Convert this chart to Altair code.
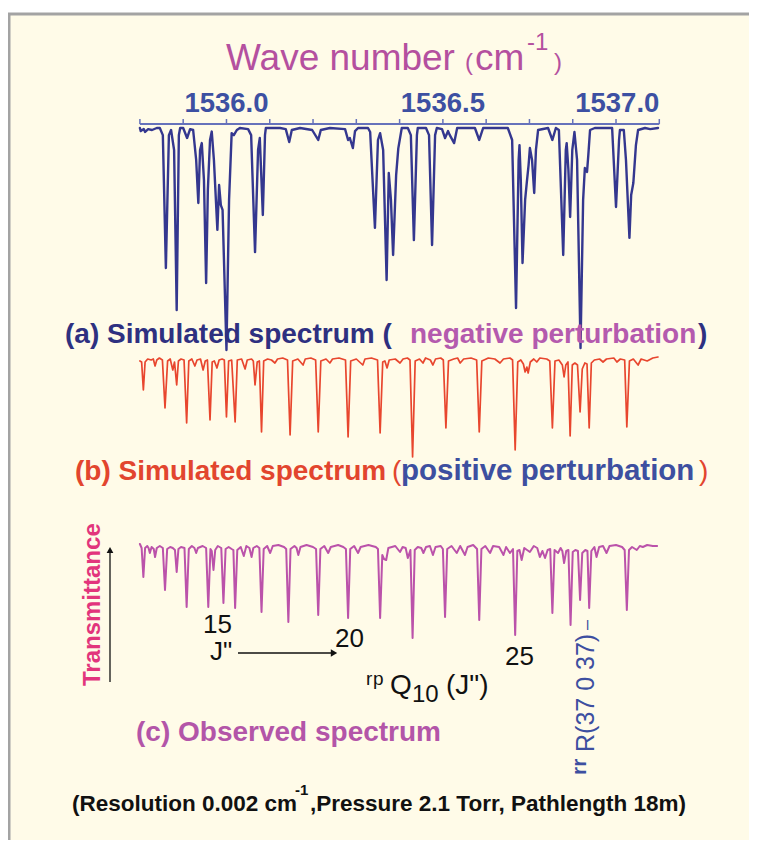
import altair as alt
import pandas as pd

# ---------------- data ----------------
# wavenumber (cm-1), relative transmittance (%) ; baseline = 100
SPEC_A = [(1535.800,100),(1535.802,98.6),(1535.809,99.5),(1535.812,98.2),(1535.819,99.5),(1535.828,99.1),
(1535.839,100),(1535.846,100),(1535.853,96.8),(1535.860,36.9),(1535.867,96.8),(1535.872,99.1),(1535.879,90.1),
(1535.885,18.0),(1535.890,96.8),(1535.893,100),(1535.900,100),(1535.909,95.5),(1535.916,99.5),(1535.923,99.1),
(1535.930,85.6),(1535.935,66.2),(1535.939,90.1),(1535.943,93.2),(1535.948,76.6),(1535.953,30.2),(1535.957,72.1),
(1535.962,94.6),(1535.966,98.4),(1535.971,85.6),(1535.979,54.1),(1535.983,74.3),(1535.987,65.3),(1535.991,63.1),
(1536.000,0),(1536.006,67.6),(1536.012,97.7),(1536.017,96.8),(1536.024,99.1),(1536.031,100),(1536.050,99.5),
(1536.057,96.8),(1536.066,44.1),(1536.073,90.1),(1536.077,95.5),(1536.084,60.8),(1536.089,96.8),(1536.091,100),
(1536.124,100),(1536.137,99.5),(1536.145,93.7),(1536.151,99.1),(1536.170,100),(1536.198,99.1),(1536.212,94.6),
(1536.218,99.1),(1536.239,100),(1536.274,99.5),(1536.281,94.6),(1536.285,95.5),(1536.292,91.0),(1536.297,98.6),
(1536.304,100),(1536.327,100),(1536.332,98.2),(1536.343,55.0),(1536.350,94.6),(1536.355,97.7),(1536.362,90.1),
(1536.370,31.5),(1536.375,79.7),(1536.380,67.6),(1536.385,42.8),(1536.392,78.8),(1536.397,90.8),(1536.405,100),
(1536.419,100),(1536.426,96.8),(1536.433,49.5),(1536.440,96.8),(1536.442,100),(1536.461,100),(1536.468,96.8),
(1536.475,47.3),(1536.482,96.8),(1536.486,100),(1536.498,99.5),(1536.505,95.5),(1536.512,98.6),(1536.516,96.8),
(1536.526,93.2),(1536.533,100),(1536.574,100),(1536.584,94.6),(1536.593,100),(1536.650,100),(1536.660,94.6),
(1536.669,18.9),(1536.675,85.6),(1536.677,92.3),(1536.680,76.6),(1536.684,39.2),(1536.690,67.6),(1536.694,75.7),
(1536.698,83.3),(1536.701,91.0),(1536.706,85.6),(1536.711,70.7),(1536.715,90.1),(1536.720,99.1),(1536.743,100),
(1536.753,94.6),(1536.761,100),(1536.768,99.1),(1536.778,42.8),(1536.784,90.1),(1536.786,93.2),(1536.790,81.1),
(1536.794,59.9),(1536.799,90.1),(1536.804,98.2),(1536.810,85.6),(1536.818,0.9),(1536.824,67.6),(1536.828,82.0),
(1536.833,80.2),(1536.836,87.8),(1536.840,99.1),(1536.851,100),(1536.891,100),(1536.900,64.4),(1536.907,94.6),
(1536.909,99.1),(1536.918,99.1),(1536.923,85.6),(1536.931,50.5),(1536.935,69.8),(1536.940,75.2),(1536.946,92.3),
(1536.951,99.1),(1536.967,100),(1536.979,99.5),(1536.997,100)]

SPEC_B = [(1535.800,98),(1535.804,97),(1535.808,69),(1535.812,97),(1535.818,100),(1535.826,99),(1535.831,100),
(1535.835,93),(1535.839,99),(1535.845,101),(1535.852,99),(1535.858,51),(1535.864,98),(1535.870,100),(1535.876,89),
(1535.880,97),(1535.885,74),(1535.889,98),(1535.895,100),(1535.902,99),(1535.908,36),(1535.913,98),(1535.920,100),
(1535.927,93),(1535.932,99),(1535.940,100),(1535.946,89),(1535.951,98),(1535.956,99),(1535.962,39),(1535.967,97),
(1535.972,98),(1535.978,91),(1535.983,99),(1535.990,100),(1535.995,99),(1536.000,42),(1536.005,98),(1536.012,99),
(1536.020,37),(1536.025,99),(1536.035,100),(1536.043,90),(1536.048,99),(1536.058,100),(1536.062,98),(1536.066,74),
(1536.071,97),(1536.076,98),(1536.081,27),(1536.086,98),(1536.095,100),(1536.104,99),(1536.112,96),(1536.118,100),
(1536.130,101),(1536.141,99),(1536.147,24),(1536.153,98),(1536.165,100),(1536.177,94),(1536.182,100),(1536.195,101),
(1536.206,99),(1536.212,27),(1536.218,98),(1536.230,100),(1536.239,96),(1536.245,100),(1536.260,101),(1536.275,99),
(1536.281,22),(1536.287,98),(1536.300,100),(1536.315,94),(1536.320,100),(1536.335,101),(1536.349,99),(1536.355,26),
(1536.361,97),(1536.366,98),(1536.371,91),(1536.376,99),(1536.390,100),(1536.401,96),(1536.408,100),(1536.418,101),
(1536.424,99),(1536.430,2),(1536.436,98),(1536.446,100),(1536.454,96),(1536.460,101),(1536.471,99),(1536.477,94),
(1536.483,100),(1536.495,101),(1536.501,99),(1536.507,31),(1536.513,98),(1536.525,100),(1536.534,101),(1536.540,96),
(1536.548,100),(1536.565,101),(1536.578,99),(1536.584,27),(1536.590,98),(1536.605,101),(1536.620,100),(1536.632,96),
(1536.640,100),(1536.655,101),(1536.661,99),(1536.667,9),(1536.673,97),(1536.680,99),(1536.686,95),(1536.690,87),
(1536.694,92),(1536.697,86),(1536.702,97),(1536.710,100),(1536.717,97),(1536.724,101),(1536.740,100),(1536.747,98),
(1536.753,31),(1536.759,98),(1536.768,99),(1536.776,94),(1536.780,82),(1536.784,94),(1536.789,97),(1536.794,23),
(1536.799,94),(1536.805,96),(1536.811,94),(1536.817,47),(1536.822,90),(1536.828,96),(1536.833,95),(1536.838,31),
(1536.843,96),(1536.850,99),(1536.862,100),(1536.870,97),(1536.878,100),(1536.895,101),(1536.902,97),(1536.910,100),
(1536.920,99),(1536.925,32),(1536.931,98),(1536.940,100),(1536.951,94),(1536.958,100),(1536.972,98),(1536.985,101),
(1536.997,102)]

SPEC_C = [(1535.800,103),(1535.804,99),(1535.808,70),(1535.812,99),(1535.817,101),(1535.820,99),(1535.823,94),
(1535.827,100),(1535.832,98),(1535.835,90),(1535.839,99),(1535.846,101),(1535.853,99),(1535.858,57),(1535.863,98),
(1535.870,100),(1535.876,99),(1535.881,97),(1535.885,75),(1535.889,98),(1535.895,100),(1535.903,99),(1535.908,40),
(1535.913,98),(1535.920,101),(1535.926,99),(1535.930,94),(1535.934,99),(1535.945,101),(1535.953,99),(1535.958,40),
(1535.963,98),(1535.966,96),(1535.970,77),(1535.974,97),(1535.980,101),(1535.988,99),(1535.993,44),(1535.998,98),
(1536.005,100),(1536.012,98),(1536.016,97),(1536.020,39),(1536.025,97),(1536.033,100),(1536.040,91),(1536.046,101),
(1536.053,99),(1536.058,90),(1536.062,99),(1536.070,101),(1536.076,99),(1536.081,35),(1536.086,98),(1536.094,101),
(1536.101,94),(1536.107,101),(1536.120,102),(1536.133,100),(1536.138,98),(1536.143,25),(1536.148,98),(1536.157,101),
(1536.162,99),(1536.166,92),(1536.171,100),(1536.185,102),(1536.200,100),(1536.207,98),(1536.212,32),(1536.217,98),
(1536.226,101),(1536.235,94),(1536.241,100),(1536.258,102),(1536.270,100),(1536.276,98),(1536.281,29),(1536.286,98),
(1536.295,101),(1536.304,94),(1536.310,100),(1536.328,102),(1536.345,100),(1536.350,98),(1536.355,29),(1536.360,92),
(1536.364,88),(1536.369,87),(1536.374,99),(1536.390,101),(1536.401,95),(1536.407,100),(1536.414,99),(1536.419,89),
(1536.425,97),(1536.430,9),(1536.435,97),(1536.442,100),(1536.450,99),(1536.455,94),(1536.461,100),(1536.470,101),
(1536.477,92),(1536.483,100),(1536.495,101),(1536.500,98),(1536.505,30),(1536.510,98),(1536.520,101),(1536.532,94),
(1536.540,101),(1536.551,92),(1536.557,100),(1536.570,102),(1536.579,98),(1536.584,27),(1536.589,98),(1536.598,101),
(1536.609,94),(1536.616,101),(1536.630,100),(1536.640,92),(1536.646,100),(1536.655,94),(1536.662,98),(1536.667,12),
(1536.672,96),(1536.677,97),(1536.682,87),(1536.688,99),(1536.701,95),(1536.710,101),(1536.718,99),(1536.724,90),
(1536.730,96),(1536.736,89),(1536.742,97),(1536.748,98),(1536.753,34),(1536.758,97),(1536.766,94),(1536.772,99),
(1536.776,96),(1536.780,84),(1536.785,96),(1536.790,97),(1536.795,22),(1536.800,95),(1536.806,97),(1536.812,96),
(1536.817,47),(1536.822,94),(1536.829,97),(1536.834,96),(1536.838,39),(1536.843,96),(1536.850,100),(1536.855,90),
(1536.861,100),(1536.870,101),(1536.878,94),(1536.885,101),(1536.900,102),(1536.914,100),(1536.920,97),(1536.925,37),
(1536.930,97),(1536.937,100),(1536.948,97),(1536.955,101),(1536.962,100),(1536.972,102),(1536.985,101),(1536.995,101)]

AXIS_RANGE = [1535.8, 1537.0]
AXIS_TICKS = [1535.8, 1535.9, 1536.0, 1536.1, 1536.2, 1536.3, 1536.4, 1536.5, 1536.6, 1536.7, 1536.8, 1536.9, 1537.0]
AXIS_LABELS = ["1536.0", "1536.5"]
AXIS_LAST_LABEL = ["1537.0"]

# ---------------- layout ----------------
M = 8          # page margin
W, H = 741, 832
FONT = "Liberation Sans"

XSCALE = alt.Scale(domain=AXIS_RANGE, range=[139.9 - M, 659.3 - M], zero=False, nice=False)

def xenc(field):
    return alt.X(field, scale=XSCALE, axis=None)

def spectrum(spec, color, width, y_top, y_bottom):
    data = pd.DataFrame(spec, columns=["wn", "T"])
    return alt.Chart(data).mark_line(color=color, strokeWidth=width, strokeJoin="round",
                                     strokeCap="round").encode(
        x=xenc("wn:Q"),
        y=alt.Y("T:Q", scale=alt.Scale(domain=[0, 100], range=[y_bottom - M, y_top - M], zero=False, nice=False),
                axis=None),
        order="wn:Q",
    )

def txt(s, x, y, size, color, weight="normal", angle=0, align="left", font=FONT):
    return alt.Chart(pd.DataFrame({"t": [s]})).mark_text(
        align=align, baseline="alphabetic", fontSize=size, color=color,
        fontWeight=weight, angle=angle, font=font,
    ).encode(x=alt.value(x - M), y=alt.value(y - M), text="t:N")

one = pd.DataFrame({"k": [0]})
frame = alt.Chart(one).mark_rect(fill="#fffbe8", stroke="#a3a3a3", strokeWidth=3).encode(
    x=alt.value(1), x2=alt.value(W + 40), y=alt.value(14 - M), y2=alt.value(H + 40))

# ---- top wavenumber axis (drawn through the x scale) ----
AX_COL = "#6672bb"
AX_Y = 124
axis_line = alt.Chart(pd.DataFrame({"a": [AXIS_RANGE[0]], "b": [AXIS_RANGE[1]]})).mark_rule(
    color=AX_COL, strokeWidth=2).encode(x=xenc("a:Q"), x2="b:Q", y=alt.value(AX_Y - M))
axis_ticks = alt.Chart(pd.DataFrame({"v": AXIS_TICKS})).mark_rule(color=AX_COL, strokeWidth=1.5).encode(
    x=xenc("v:Q"), y=alt.value(AX_Y - 5 - M), y2=alt.value(AX_Y - M))
label_style = dict(align="center", baseline="alphabetic", fontSize=27.5, fontWeight="bold",
                   color="#3d50a2", font=FONT)
axis_labels = alt.Chart(pd.DataFrame({"s": AXIS_LABELS})).transform_calculate(
    v="toNumber(datum.s)").mark_text(**label_style).encode(
    x=xenc("v:Q"), y=alt.value(112 - M), text="s:N")
axis_last = alt.Chart(pd.DataFrame({"s": AXIS_LAST_LABEL})).transform_calculate(
    v="toNumber(datum.s)").mark_text(dx=-42, **label_style).encode(
    x=xenc("v:Q"), y=alt.value(112 - M), text="s:N")

# arrows
v_arrow = alt.Chart(one).mark_rule(color="#111", strokeWidth=1.3).encode(
    x=alt.value(110 - M), y=alt.value(552 - M), y2=alt.value(682 - M))
v_head = alt.Chart(one).mark_point(shape="triangle-up", filled=True, color="#111", size=45, opacity=1).encode(
    x=alt.value(110 - M), y=alt.value(550 - M))
h_arrow = alt.Chart(one).mark_rule(color="#111", strokeWidth=1.3).encode(
    x=alt.value(238 - M), x2=alt.value(332 - M), y=alt.value(653 - M))
h_head = alt.Chart(one).mark_point(shape="triangle-right", filled=True, color="#111", size=55, opacity=1).encode(
    x=alt.value(334 - M), y=alt.value(653 - M))

NAVY = "#2e3080"
MAG = "#b45aae"
RED = "#e2452e"
BLUE = "#3d4fa0"
PURP = "#b4509f"

texts = [
    # title
    txt("Wave number", 226, 70, 37, PURP),
    txt("(", 465, 70, 24, PURP),
    txt("cm", 475, 70, 37, PURP),
    txt("-1", 527, 50, 24, PURP),
    txt(")", 554, 70, 24, PURP),
    # (a)
    txt("(a) Simulated spectrum (", 65, 343, 28, NAVY, "bold"),
    txt("negative perturbation", 410, 343, 28, MAG, "bold"),
    txt(")", 698, 343, 28, NAVY, "bold"),
    # (b)
    txt("(b) Simulated spectrum", 75, 480, 28, RED, "bold"),
    txt("(", 392, 480, 28, RED, "normal"),
    txt("positive perturbation", 401, 480, 29.5, BLUE, "bold"),
    txt(")", 699, 480, 28, RED, "normal"),
    # transmittance
    txt("Transmittance", 100, 686, 24, "#e2357c", "bold", angle=270),
    # J labels
    txt("15", 203, 633, 26, "#111"),
    txt("20", 335, 647, 26, "#111"),
    txt("25", 505, 665, 26, "#111"),
    txt("J\"", 210, 660, 26, "#111"),
    txt("r", 366, 685, 19, "#111"),
    txt("p", 373, 685, 19, "#111"),
    txt("Q", 390, 694, 28, "#111"),
    txt("10", 412, 702, 24, "#111"),
    txt("(J\")", 446, 694, 28, "#111"),
    # rrR label (rotated)
    txt("rr", 586, 775, 21, BLUE, "bold", angle=270),
    txt("R(37 0 37)", 594, 752, 25, BLUE, "normal", angle=270),
    txt("\u2013", 592, 630, 18, BLUE, "normal", angle=270),
    # (c)
    txt("(c) Observed spectrum", 136, 741, 28, "#b355a8", "bold"),
    # footnote
    txt("(Resolution 0.002 cm", 72, 811, 22.5, "#111", "bold"),
    txt("-1", 295, 795, 15, "#111", "bold"),
    txt(",Pressure 2.1 Torr, Pathlength 18m)", 310, 811, 22.5, "#111", "bold"),
]

spec_a = spectrum(SPEC_A, "#34378f", 2.4, 128, 350)
spec_b = spectrum(SPEC_B, "#e8462e", 1.7, 359, 459)
spec_c = spectrum(SPEC_C, "#bb52aa", 2.0, 547, 647)

chart = alt.layer(
    frame, axis_line, axis_ticks, axis_labels, axis_last, spec_a, spec_b, spec_c,
    v_arrow, v_head, h_arrow, h_head, *texts
).resolve_scale(y="independent").properties(
    width=W, height=H, padding=0, autosize=alt.AutoSizeParams(type="none"), background="white"
).configure_view(stroke=None)

chart.save("out.html", embed_options={"renderer": "svg", "actions": False})
